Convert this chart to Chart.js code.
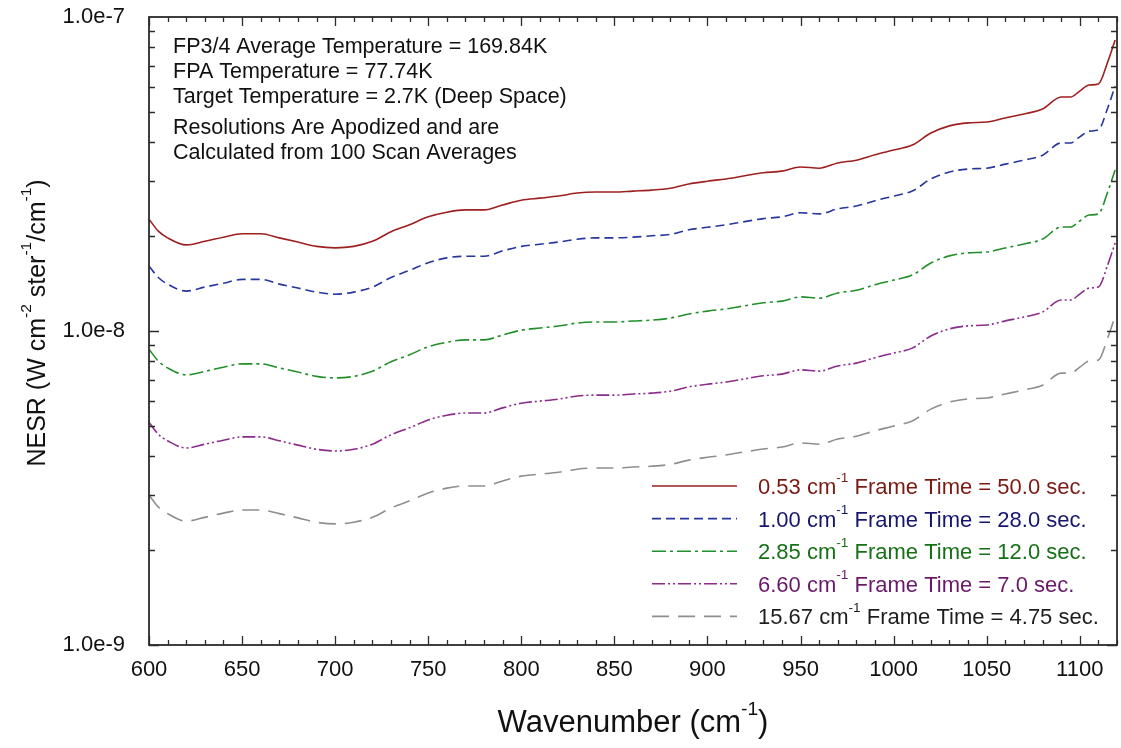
<!DOCTYPE html>
<html>
<head>
<meta charset="utf-8">
<title>NESR vs Wavenumber</title>
<script src="https://cdn.jsdelivr.net/npm/chart.js@4.4.1/dist/chart.umd.min.js"></script>
<style>
  html, body { margin: 0; padding: 0; background: #fff; }
</style>
</head>
<body>
<canvas id="nesr" width="1121" height="748"></canvas>
<script>
"use strict";

// wavenumber grid (cm-1)
const wavenumber = [600, 605, 610, 620, 630, 640, 650, 660, 670, 680, 690, 700, 710, 720, 730, 740,
    750, 760, 770, 780, 790, 800, 810, 820, 830, 840, 850, 860, 870, 880, 890, 900, 910, 920, 930,
    940, 950, 960, 970, 980, 990, 1000, 1010, 1020, 1030, 1040, 1050, 1060, 1070, 1080, 1090, 1095,
    1100, 1105, 1110, 1115, 1119];

// NESR, in units of 1e-9 W cm-2 ster-1 / cm-1
const UNIT = 1e-9;
const nesr053 = [22.7, 20.8, 19.8, 18.8, 19.3, 19.9, 20.4, 20.4, 19.8, 19.2, 18.6, 18.4, 18.6, 19.3, 20.7, 21.8,
    23.1, 23.9, 24.3, 24.3, 25.2, 26.1, 26.5, 26.9, 27.5, 27.7, 27.7, 27.9, 28.1, 28.5, 29.4, 30.0, 30.5, 31.2, 31.9,
    32.3, 33.3, 33.0, 34.3, 35.0, 36.4, 37.7, 39.1, 42.7, 45.0, 46.0, 46.3, 47.7, 49.1, 50.9, 55.6, 55.6,
    58.1, 60.7, 61.2, 71.9, 84.5];
const nesr100 = [16.1, 14.8, 14.1, 13.4, 13.8, 14.2, 14.6, 14.6, 14.1, 13.7, 13.3, 13.1, 13.3, 13.8, 14.8, 15.6,
    16.5, 17.1, 17.3, 17.3, 18.0, 18.6, 18.9, 19.2, 19.6, 19.8, 19.8, 19.9, 20.1, 20.3, 21.0, 21.4, 21.8, 22.3, 22.8,
    23.1, 23.8, 23.6, 24.5, 25.0, 26.0, 26.9, 27.9, 30.5, 32.1, 32.8, 33.0, 34.0, 35.0, 36.3, 39.7, 39.7,
    41.5, 43.3, 43.7, 51.3, 60.3];
const nesr285 = [8.75, 8.02, 7.63, 7.25, 7.44, 7.67, 7.86, 7.86, 7.63, 7.40, 7.17, 7.09, 7.17, 7.44, 7.98, 8.40,
    8.91, 9.21, 9.37, 9.37, 9.71, 10.06, 10.22, 10.37, 10.60, 10.68, 10.68, 10.76, 10.83, 10.99, 11.33, 11.57, 11.76,
    12.03, 12.30, 12.45, 12.84, 12.72, 13.22, 13.49, 14.03, 14.53, 15.07, 16.46, 17.35, 17.73, 17.85, 18.39, 18.93,
    19.62, 21.43, 21.43, 22.40, 23.40, 23.59, 27.72, 32.57];
const nesr660 = [5.12, 4.69, 4.47, 4.24, 4.36, 4.49, 4.60, 4.60, 4.47, 4.33, 4.20, 4.15, 4.20, 4.36, 4.67, 4.92,
    5.21, 5.39, 5.48, 5.48, 5.69, 5.89, 5.98, 6.07, 6.21, 6.25, 6.25, 6.30, 6.34, 6.43, 6.64, 6.77, 6.88, 7.04, 7.20,
    7.29, 7.52, 7.45, 7.74, 7.90, 8.22, 8.51, 8.82, 9.64, 10.16, 10.38, 10.45, 10.77, 11.08, 11.49, 12.55, 12.55,
    13.11, 13.70, 13.81, 16.23, 19.07];
const nesr1567 = [3.00, 2.75, 2.62, 2.48, 2.55, 2.63, 2.69, 2.69, 2.62, 2.54, 2.46, 2.43, 2.46, 2.55, 2.73, 2.88,
    3.05, 3.16, 3.21, 3.21, 3.33, 3.45, 3.50, 3.55, 3.63, 3.66, 3.66, 3.69, 3.71, 3.76, 3.88, 3.96, 4.03, 4.12, 4.21,
    4.27, 4.40, 4.36, 4.53, 4.62, 4.81, 4.98, 5.17, 5.64, 5.94, 6.08, 6.12, 6.30, 6.49, 6.72, 7.34, 7.34,
    7.67, 8.02, 8.08, 9.50, 11.16];

const resolutions = ['0.53', '1.00', '2.85', '6.60', '15.67'];
const frameTimes = ['50.0', '28.0', '12.0', '7.0', '4.75'];

const xTicks = [600, 650, 700, 750, 800, 850, 900, 950, 1000, 1050, 1100];
const yTicks = [1e-9, 1e-8, 1e-7];

const notes = [
    'FP3/4 Average Temperature = 169.84K',
    'FPA Temperature = 77.74K',
    'Target Temperature = 2.7K (Deep Space)',
    'Resolutions Are Apodized and are',
    'Calculated from 100 Scan Averages'
];

// styles
const FONT = '"Liberation Sans", Arial, sans-serif';
const lineColors = ['#9e1f1f', '#25369e', '#22902a', '#8b2b8b', '#8e8e8e'];
const textColors = ['#7a1a12', '#16166e', '#167016', '#6a186a', '#1e1e1e'];
const dashes = [[], [9, 5], [14, 4, 3, 4], [13, 3, 2, 3, 2, 3], [17, 9]];


// text with superscripts, left aligned on a baseline
function drawRich(ctx, parts, x, y, size) {
    for (const p of parts) {
        const s = p.sup ? size * 0.62 : size;
        ctx.font = s + 'px ' + FONT;
        ctx.fillText(p.t, x, p.sup ? y - size * 0.56 : y);
        x += ctx.measureText(p.t).width;
    }
}

function richWidth(ctx, parts, size) {
    let w = 0;
    for (const p of parts) {
        ctx.font = (p.sup ? size * 0.62 : size) + 'px ' + FONT;
        w += ctx.measureText(p.t).width;
    }
    return w;
}

const decorations = {
    id: 'decorations',
    afterDraw(chart) {
        const { ctx, chartArea: a, scales: { x, y } } = chart;
        ctx.save();

        // inward ticks on all four sides
        ctx.strokeStyle = '#2b2b2b';
        ctx.lineWidth = 1.3;
        ctx.beginPath();
        for (let w = 600; w <= 1120; w += 10) {
            const px = Math.round(x.getPixelForValue(w)) + 0.5;
            const len = w % 50 === 0 ? 9 : 5;
            ctx.moveTo(px, a.bottom); ctx.lineTo(px, a.bottom - len);
            ctx.moveTo(px, a.top); ctx.lineTo(px, a.top + len);
        }
        for (let e = -9; e < -7; e++) {
            for (let k = 1; k <= 9; k++) {
                const py = Math.round(y.getPixelForValue(k * Math.pow(10, e))) + 0.5;
                const len = k === 1 ? 10 : 6;
                ctx.moveTo(a.left, py); ctx.lineTo(a.left + len, py);
                ctx.moveTo(a.right, py); ctx.lineTo(a.right - len, py);
            }
        }
        ctx.stroke();

        ctx.lineWidth = 1.8;
        ctx.strokeRect(a.left, a.top, a.width, a.height);

        // notes
        ctx.fillStyle = '#111';
        ctx.textBaseline = 'middle';
        ctx.font = '21.5px ' + FONT;
        const noteOffsets = [30, 55, 80, 111, 136];
        notes.forEach((t, i) => ctx.fillText(t, a.left + 24, a.top + noteOffsets[i]));

        // legend
        ctx.textBaseline = 'alphabetic';
        chart.data.datasets.forEach((ds, i) => {
            const cy = 486 + i * 32.6;
            ctx.strokeStyle = ds.borderColor;
            ctx.lineWidth = ds.borderWidth;
            ctx.setLineDash(ds.borderDash);
            ctx.beginPath();
            ctx.moveTo(652, cy);
            ctx.lineTo(737, cy);
            ctx.stroke();
            ctx.setLineDash([]);
            ctx.fillStyle = textColors[i];
            drawRich(ctx, [
                { t: resolutions[i] + ' cm' },
                { t: '-1', sup: true },
                { t: ' Frame Time = ' + frameTimes[i] + ' sec.' }
            ], 758, cy + 8, 22);
        });

        // axis titles
        ctx.fillStyle = '#111';
        const xt = [{ t: 'Wavenumber (cm' }, { t: '-1', sup: true }, { t: ')' }];
        const xs = 31;
        drawRich(ctx, xt, (a.left + a.right) / 2 - richWidth(ctx, xt, xs) / 2, 732, xs);

        const yt = [{ t: 'NESR (W cm' }, { t: '-2', sup: true }, { t: ' ster' }, { t: '-1', sup: true },
            { t: '/cm' }, { t: '-1', sup: true }, { t: ')' }];
        const ys = 25;
        ctx.translate(45, 323);
        ctx.rotate(-Math.PI / 2);
        drawRich(ctx, yt, -richWidth(ctx, yt, ys) / 2, 0, ys);

        ctx.restore();
    }
};

const series = [nesr053, nesr100, nesr285, nesr660, nesr1567];

const ctx = document.getElementById('nesr').getContext('2d');
const chart = new Chart(ctx, {
    type: 'line',
    data: {
        datasets: series.map((vals, i) => ({
            label: resolutions[i] + ' cm-1 Frame Time = ' + frameTimes[i] + ' sec.',
            data: vals.map((v, j) => ({ x: wavenumber[j], y: v * UNIT })),
            borderColor: lineColors[i],
            borderDash: dashes[i],
            borderWidth: 1.6,
            pointRadius: 0,
            cubicInterpolationMode: 'monotone',
            fill: false
        }))
    },
    options: {
        responsive: false,
        animation: false,
        layout: {
            autoPadding: false,
            padding: { top: 17, right: 4, left: 0, bottom: 0 }
        },
        plugins: {
            legend: { display: false },
            tooltip: { enabled: false }
        },
        scales: {
            x: {
                type: 'linear',
                min: 600,
                max: 1120,
                grid: { display: false, drawTicks: false },
                border: { display: false },
                afterBuildTicks: s => { s.ticks = xTicks.map(v => ({ value: v })); },
                afterFit: s => {
                    s.height = 103;
                    s.paddingLeft = 0;
                    s.paddingRight = 0;
                },
                ticks: {
                    font: { family: FONT, size: 22 },
                    color: '#111',
                    padding: 12,
                    maxRotation: 0,
                    autoSkip: false,
                    callback: v => String(v)
                }
            },
            y: {
                type: 'logarithmic',
                min: 1e-9,
                max: 1e-7,
                grid: { display: false, drawTicks: false },
                border: { display: false },
                afterBuildTicks: s => { s.ticks = yTicks.map(v => ({ value: v })); },
                afterFit: s => {
                    s.width = 149;
                    s.paddingTop = 0;
                    s.paddingBottom = 0;
                },
                ticks: {
                    font: { family: FONT, size: 22 },
                    color: '#111',
                    padding: 24,
                    callback: v => Number(v).toExponential(1)
                }
            }
        }
    },
    plugins: [decorations]
});
</script>
</body>
</html>
